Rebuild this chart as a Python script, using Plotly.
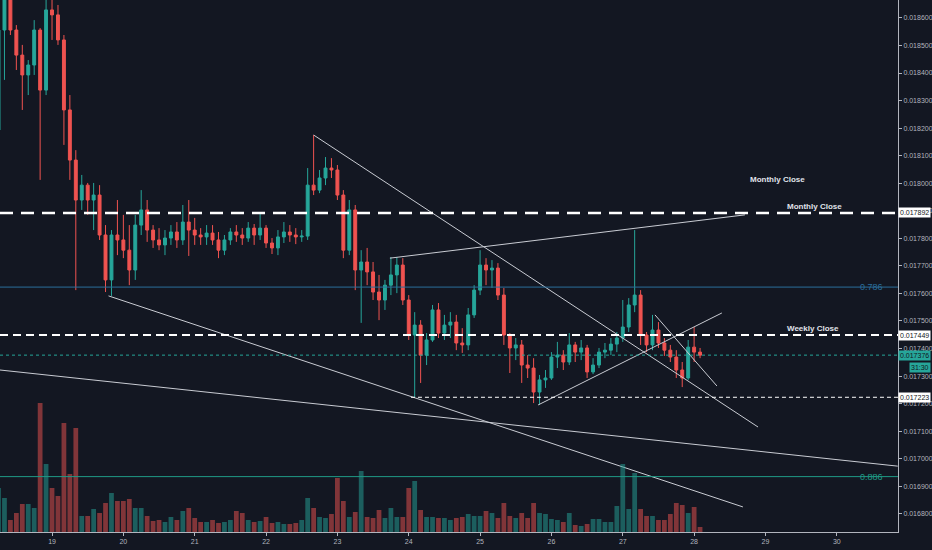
import plotly.graph_objects as go
import pandas as pd

# 2h candles, prices in BTC
first_open = 0.018193
close = [0.018556, 0.018683, 0.018556, 0.018465, 0.018393, 0.018429, 0.018556, 0.018338, 0.018629, 0.018611,
         0.018520, 0.018266, 0.018084, 0.017939, 0.017993, 0.017939, 0.017957, 0.017812, 0.017649, 0.017812,
         0.017794, 0.017757, 0.017685, 0.017848, 0.017903, 0.017830, 0.017794, 0.017776, 0.017801, 0.017823,
         0.017794, 0.017859, 0.017830, 0.017812, 0.017805, 0.017819, 0.017794, 0.017757, 0.017794, 0.017823,
         0.017812, 0.017801, 0.017837, 0.017812, 0.017837, 0.017783, 0.017765, 0.017805, 0.017823, 0.017812,
         0.017805, 0.017808, 0.017993, 0.017975, 0.018019, 0.018055, 0.018048, 0.017957, 0.017757, 0.017903,
         0.017685, 0.017714, 0.017678, 0.017605, 0.017576, 0.017630, 0.017667, 0.017703, 0.017576, 0.017449,
         0.017485, 0.017376, 0.017431, 0.017540, 0.017456, 0.017485, 0.017496, 0.017420, 0.017413, 0.017522,
         0.017612, 0.017703, 0.017685, 0.017692, 0.017594, 0.017449, 0.017402, 0.017413, 0.017340, 0.017329,
         0.017242, 0.017286, 0.017293, 0.017369, 0.017376, 0.017351, 0.017413, 0.017387, 0.017402, 0.017315,
         0.017340, 0.017387, 0.017394, 0.017416, 0.017438, 0.017478, 0.017558, 0.017594, 0.017449, 0.017413,
         0.017467, 0.017420, 0.017394, 0.017369, 0.017322, 0.017293, 0.017405, 0.017387, 0.017376]
high = [0.018701, 0.018738, 0.018719, 0.018574, 0.018502, 0.018447, 0.018592, 0.018563, 0.018665, 0.018701,
        0.018647, 0.018538, 0.018320, 0.018120, 0.018030, 0.018001, 0.018001, 0.017993, 0.017848, 0.017830,
        0.017939, 0.017885, 0.017848, 0.017885, 0.017975, 0.017939, 0.017848, 0.017837, 0.017830, 0.017848,
        0.017859, 0.017921, 0.017939, 0.017874, 0.017837, 0.017848, 0.017848, 0.017823, 0.017812, 0.017837,
        0.017848, 0.017837, 0.017859, 0.017852, 0.017892, 0.017848, 0.017801, 0.017830, 0.017859, 0.017848,
        0.017837, 0.017830, 0.018055, 0.018175, 0.018048, 0.018095, 0.018091, 0.018066, 0.017975, 0.017939,
        0.017921, 0.017757, 0.017765, 0.017714, 0.017667, 0.017649, 0.017732, 0.017732, 0.017728, 0.017594,
        0.017532, 0.017503, 0.017456, 0.017558, 0.017565, 0.017522, 0.017532, 0.017522, 0.017474, 0.017547,
        0.017630, 0.017757, 0.017728, 0.017721, 0.017710, 0.017620, 0.017456, 0.017438, 0.017431, 0.017376,
        0.017365, 0.017304, 0.017322, 0.017387, 0.017424, 0.017394, 0.017456, 0.017424, 0.017431, 0.017413,
        0.017365, 0.017402, 0.017420, 0.017438, 0.017460, 0.017576, 0.017583, 0.017830, 0.017612, 0.017460,
        0.017522, 0.017496, 0.017438, 0.017413, 0.017394, 0.017351, 0.017431, 0.017478, 0.017402]
low = [0.018175, 0.018375, 0.018538, 0.018411, 0.018266, 0.018320, 0.018393, 0.018012, 0.018320, 0.018520,
       0.018502, 0.018139, 0.018012, 0.017612, 0.017903, 0.017885, 0.017830, 0.017794, 0.017605, 0.017591,
       0.017739, 0.017728, 0.017630, 0.017649, 0.017812, 0.017787, 0.017765, 0.017757, 0.017739, 0.017776,
       0.017765, 0.017776, 0.017736, 0.017776, 0.017776, 0.017776, 0.017776, 0.017728, 0.017739, 0.017776,
       0.017787, 0.017776, 0.017787, 0.017776, 0.017794, 0.017765, 0.017743, 0.017739, 0.017783, 0.017787,
       0.017779, 0.017787, 0.017794, 0.017957, 0.017964, 0.017993, 0.018019, 0.017939, 0.017728, 0.017739,
       0.017612, 0.017493, 0.017630, 0.017576, 0.017503, 0.017540, 0.017594, 0.017601, 0.017558, 0.017431,
       0.017224, 0.017275, 0.017340, 0.017424, 0.017438, 0.017431, 0.017438, 0.017394, 0.017384, 0.017394,
       0.017511, 0.017594, 0.017630, 0.017620, 0.017576, 0.017413, 0.017311, 0.017358, 0.017275, 0.017293,
       0.017202, 0.017195, 0.017257, 0.017286, 0.017329, 0.017322, 0.017340, 0.017351, 0.017358, 0.017293,
       0.017307, 0.017329, 0.017365, 0.017376, 0.017387, 0.017424, 0.017460, 0.017532, 0.017413, 0.017387,
       0.017394, 0.017402, 0.017373, 0.017351, 0.017293, 0.017260, 0.017286, 0.017351, 0.017365]
volume = [44, 34, 12, 19, 28, 28, 24, 129, 68, 44,
          36, 109, 58, 104, 16, 16, 23, 19, 29, 39,
          31, 31, 33, 24, 24, 16, 11, 12, 10, 15,
          12, 21, 24, 14, 10, 10, 12, 9, 10, 12,
          21, 19, 12, 10, 11, 15, 9, 10, 8, 8,
          9, 12, 34, 24, 15, 14, 18, 54, 31, 15,
          20, 61, 15, 14, 22, 14, 24, 15, 15, 44,
          51, 22, 15, 15, 14, 14, 12, 14, 15, 18,
          16, 16, 21, 19, 14, 29, 16, 14, 19, 14,
          29, 19, 18, 13, 12, 10, 19, 7, 6, 8,
          13, 13, 10, 10, 26, 68, 23, 59, 23, 16,
          16, 12, 12, 18, 29, 27, 19, 25, 5]

times = pd.date_range("2019-09-18 06:00", periods=len(close), freq="2h")
opens = [first_open] + close[:-1]

# levels
monthly_close = 0.017892
weekly_close = 0.017449
support_level = 0.017223
support_start = "2019-09-24 00:45"
fib_786 = 0.017623
fib_886 = 0.016935
countdown = "31:30"

# drawn trend lines: (t0, p0, t1, p1)
trend_lines = [
    ("2019-09-22 16:00", 0.018175, "2019-09-28 21:30", 0.017115),
    ("2019-09-19 19:00", 0.017591, "2019-09-28 16:25", 0.016825),
    ("2019-09-18 06:30", 0.017322, "2019-09-30 20:30", 0.016973),
    ("2019-09-23 17:40", 0.017728, "2019-09-28 17:05", 0.017885),
    ("2019-09-25 19:30", 0.017195, "2019-09-28 09:20", 0.017529),
    ("2019-09-27 10:50", 0.017522, "2019-09-28 07:40", 0.017264),
]

# text notes: (time, price, text)
notes = [
    ("2019-09-29 03:55", 0.018012, "Monthly Close"),
    ("2019-09-29 16:20", 0.017914, "Monthly Close"),
    ("2019-09-29 16:00", 0.017474, "Weekly Close"),
]

UP = "#26a69a"
DOWN = "#ef5350"
BG = "#131722"

fig = go.Figure()

vol_colors = ["rgba(38,166,154,0.5)" if c >= o else "rgba(239,83,80,0.5)" for o, c in zip(opens, close)]
fig.add_trace(go.Bar(
    x=times, y=volume, yaxis="y2",
    marker=dict(color=vol_colors, line_width=0),
    width=2 * 3600 * 1000 * 0.8,
    hoverinfo="skip", showlegend=False
))

fig.add_trace(go.Candlestick(
    x=times, open=opens, high=high, low=low, close=close,
    increasing=dict(line=dict(color=UP, width=1), fillcolor=UP),
    decreasing=dict(line=dict(color=DOWN, width=1), fillcolor=DOWN),
    showlegend=False
))

for t0, p0, t1, p1 in trend_lines:
    fig.add_trace(go.Scatter(
        x=[t0, t1], y=[p0, p1], mode="lines",
        line=dict(color="#c9ccd3", width=1),
        hoverinfo="skip", showlegend=False
    ))

shapes = [
    dict(type="line", xref="paper", x0=0, x1=1, yref="y", y0=fib_786, y1=fib_786,
         line=dict(color="#2a6e9c", width=1)),
    dict(type="line", xref="paper", x0=0, x1=1, yref="y", y0=fib_886, y1=fib_886,
         line=dict(color="#1f9a86", width=1)),
    dict(type="line", xref="paper", x0=0, x1=1, yref="y", y0=monthly_close, y1=monthly_close,
         line=dict(color="white", width=2.5, dash="13px,8px")),
    dict(type="line", xref="paper", x0=0, x1=1, yref="y", y0=weekly_close, y1=weekly_close,
         line=dict(color="white", width=2, dash="8px,5px")),
    dict(type="line", xref="x", x0=support_start, x1="2019-09-30 21:00", yref="y",
         y0=support_level, y1=support_level,
         line=dict(color="white", width=1, dash="4px,3px")),
    dict(type="line", xref="paper", x0=0, x1=1, yref="y", y0=close[-1], y1=close[-1],
         line=dict(color=UP, width=1, dash="dot")),
]

annotations = []
for t, p, txt in notes:
    annotations.append(dict(x=t, y=p, xref="x", yref="y", text="<b>" + txt + "</b>",
                            showarrow=False, font=dict(color="#e0e3eb", size=8, family="Liberation Sans")))

annotations.append(dict(x=0.985, y=fib_786, xref="paper", yref="y", text="0.786", xanchor="right",
                        showarrow=False, font=dict(color="#2a6e9c", size=9, family="Liberation Sans")))
annotations.append(dict(x=0.985, y=fib_886, xref="paper", yref="y", text="0.886", xanchor="right",
                        showarrow=False, font=dict(color="#1f9a86", size=9, family="Liberation Sans")))

# price boxes on the axis
for p, bg, fg in [(monthly_close, "white", "#131722"), (weekly_close, "white", "#131722"),
                  (support_level, "white", "#131722"), (close[-1], UP, "#131722")]:
    annotations.append(dict(x=1, y=p, xref="paper", yref="y", text=f"{p:.6f}", xanchor="left",
                            showarrow=False, bgcolor=bg, borderpad=1,
                            font=dict(color=fg, size=7, family="Liberation Sans")))
annotations.append(dict(x=1.0, xshift=33, y=close[-1], yshift=-12, xref="paper", yref="y",
                        text=countdown, xanchor="right", showarrow=False, bgcolor=UP, borderpad=1,
                        font=dict(color="#131722", size=7, family="Liberation Sans")))

fig.update_layout(
    width=932, height=550,
    paper_bgcolor=BG, plot_bgcolor=BG,
    margin=dict(l=0, r=34, t=0, b=18),
    showlegend=False,
    shapes=shapes,
    annotations=annotations,
    font=dict(family="Liberation Sans", color="#b2b5be", size=7),
    xaxis=dict(
        type="date",
        range=["2019-09-18 06:30", "2019-09-30 20:35"],
        rangeslider=dict(visible=False),
        showgrid=False, zeroline=False,
        showline=True, linecolor="#b2b5be", linewidth=1,
        ticks="outside", ticklen=3, tickcolor="#b2b5be",
        dtick=86400000, tick0="2019-09-19", tickformat="%d",
        tickfont=dict(size=7, color="#b2b5be"),
    ),
    yaxis=dict(
        side="right",
        range=[0.016734, 0.018665],
        showgrid=False, zeroline=False,
        showline=True, linecolor="#b2b5be", linewidth=1,
        ticks="outside", ticklen=3, tickcolor="#b2b5be",
        dtick=0.0001, tick0=0.0168, tickformat=".6f",
        tickfont=dict(size=7, color="#b2b5be"),
    ),
    yaxis2=dict(
        overlaying="y", range=[0, 532], visible=False,
    ),
)

fig.write_html("out.html", config={"displayModeBar": False},
               post_script="document.body.style.margin='0';document.body.style.background='#131722';")
